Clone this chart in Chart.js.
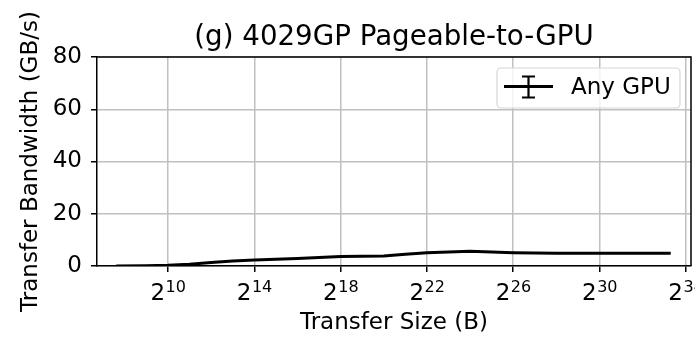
<!DOCTYPE html>
<html>
<head>
<meta charset="utf-8">
<script src="https://cdn.jsdelivr.net/npm/chart.js@4.4.1/dist/chart.umd.min.js"></script>
<style>
  html, body { margin: 0; padding: 0; background: #fff; }
  #c { display: block; }
</style>
</head>
<body>
<canvas id="c" width="695" height="337"></canvas>
<script>
// Transfer size as log2(bytes), and measured bandwidth in GB/s
const sizeLog2 = [7.6, 9, 10, 11, 12, 13, 14, 15, 16, 17, 18, 19, 20, 21, 22, 23, 24, 25, 26, 27, 28, 29, 30, 31, 32, 33.3];
const bandwidthGBs = [0.0, 0.1, 0.25, 0.7, 1.35, 1.9, 2.3, 2.6, 2.9, 3.3, 3.6, 3.75, 3.85, 4.5, 5.1, 5.4, 5.6, 5.35, 5.1, 5.0, 4.9, 4.85, 4.9, 4.85, 4.9, 4.9];
const xTickExponents = [10, 14, 18, 22, 26, 30, 34];
const yTickValues = [0, 20, 40, 60, 80];
const seriesLabel = 'Any GPU';
const chartTitle = '(g) 4029GP Pageable-to-GPU';
const xAxisTitle = 'Transfer Size (B)';
const yAxisTitle = 'Transfer Bandwidth (GB/s)';

const FONT = "'DejaVu Sans', 'Liberation Sans', sans-serif";
const GRID = '#c0c0c0';

// Title over the plot area, box spines, power-of-two tick labels and the in-plot legend
const decorations = {
  id: 'decorations',
  afterDraw(chart) {
    const { ctx, chartArea: a } = chart;
    ctx.save();

    ctx.fillStyle = '#000';
    ctx.font = `27.7px ${FONT}`;
    ctx.textAlign = 'center';
    ctx.textBaseline = 'alphabetic';
    ctx.fillText(chartTitle, (a.left + a.right) / 2, 45);

    ctx.strokeStyle = '#000';
    ctx.lineWidth = 1.5;
    ctx.beginPath();
    ctx.moveTo(a.left, a.top);
    ctx.lineTo(a.right, a.top);
    ctx.lineTo(a.right, a.bottom);
    ctx.stroke();

    // x tick labels: base 2 with a raised exponent
    const xs = chart.scales.x;
    ctx.textAlign = 'left';
    xs.ticks.forEach(t => {
      const px = xs.getPixelForValue(t.value);
      ctx.font = `23px ${FONT}`;
      const wb = ctx.measureText('2').width;
      ctx.font = `16px ${FONT}`;
      const exp = String(t.value);
      const we = ctx.measureText(exp).width;
      const x0 = px - (wb + we) / 2;
      ctx.font = `23px ${FONT}`;
      ctx.fillText('2', x0, 300);
      ctx.font = `16px ${FONT}`;
      ctx.fillText(exp, x0 + wb + 0.5, 292);
    });

    // legend box
    const bx = 497, by = 68, bw = 183, bh = 40, r = 4;
    ctx.beginPath();
    ctx.roundRect(bx, by, bw, bh, r);
    ctx.fillStyle = 'rgba(255,255,255,0.8)';
    ctx.fill();
    ctx.strokeStyle = '#d6d6d6';
    ctx.lineWidth = 1.2;
    ctx.stroke();

    // errorbar handle
    const ds = chart.data.datasets[0];
    ctx.strokeStyle = ds.borderColor;
    ctx.lineWidth = 2.8;
    ctx.beginPath();
    ctx.moveTo(504, 86.5);
    ctx.lineTo(553, 86.5);
    ctx.stroke();
    ctx.lineWidth = 2.2;
    ctx.beginPath();
    ctx.moveTo(528.5, 76.5);
    ctx.lineTo(528.5, 97.5);
    ctx.moveTo(522, 76.5);
    ctx.lineTo(535, 76.5);
    ctx.moveTo(522, 97.5);
    ctx.lineTo(535, 97.5);
    ctx.stroke();

    ctx.fillStyle = '#000';
    ctx.font = `23px ${FONT}`;
    ctx.fillText(ds.label, 571, 94);
    ctx.restore();
  }
};

new Chart(document.getElementById('c'), {
  type: 'line',
  data: {
    datasets: [{
      label: seriesLabel,
      data: sizeLog2.map((e, i) => ({ x: e, y: bandwidthGBs[i] })),
      borderColor: '#000',
      borderWidth: 3,
      pointRadius: 0,
      tension: 0,
      fill: false
    }]
  },
  options: {
    responsive: false,
    animation: false,
    devicePixelRatio: 1,
    layout: { padding: { left: 0, right: 4, top: 57, bottom: 0 } },
    plugins: {
      legend: { display: false },
      tooltip: { enabled: false },
      title: { display: false }
    },
    scales: {
      x: {
        type: 'linear',
        min: 6.71,
        max: 34.24,
        afterBuildTicks: s => { s.ticks = xTickExponents.map(v => ({ value: v })); },
        afterFit: s => { s.height = 71; },
        ticks: { display: false },
        grid: { color: GRID, lineWidth: 1.5, drawTicks: true, tickLength: 6, tickColor: '#000', tickWidth: 1.5 },
        border: { color: '#000', width: 1.5 },
        title: {
          display: true,
          text: xAxisTitle,
          color: '#000',
          font: { family: FONT, size: 23 },
          padding: { top: 0, bottom: 0 }
        }
      },
      y: {
        type: 'linear',
        min: 0,
        max: 80,
        afterBuildTicks: s => { s.ticks = yTickValues.map(v => ({ value: v })); },
        afterFit: s => { s.width = 97; },
        ticks: { color: '#000', font: { family: FONT, size: 23 }, padding: 9 },
        grid: { color: GRID, lineWidth: 1.5, drawTicks: true, tickLength: 6, tickColor: '#000', tickWidth: 1.5 },
        border: { color: '#000', width: 1.5 },
        title: {
          display: true,
          text: yAxisTitle,
          color: '#000',
          font: { family: FONT, size: 23 },
          padding: { top: 17.7, bottom: 0 }
        }
      }
    }
  },
  plugins: [decorations]
});
</script>
</body>
</html>
